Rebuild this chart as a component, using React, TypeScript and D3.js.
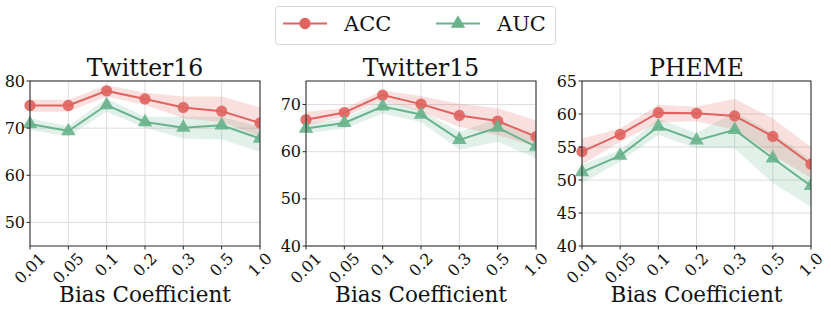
import React, { useRef, useEffect } from 'react';
import * as d3 from 'd3';

const coefficients = ['0.01', '0.05', '0.1', '0.2', '0.3', '0.5', '1.0'];
const datasets = ['Twitter16', 'Twitter15', 'PHEME'];

// means
const accTwitter16 = [74.8, 74.8, 77.9, 76.2, 74.4, 73.6, 71.1];
const aucTwitter16 = [70.9, 69.4, 74.9, 71.3, 70.1, 70.6, 67.8];
const accTwitter15 = [66.8, 68.3, 72.0, 70.1, 67.7, 66.5, 63.2];
const aucTwitter15 = [64.9, 66.1, 69.6, 67.9, 62.5, 65.1, 61.1];
const accPheme = [54.3, 56.9, 60.2, 60.1, 59.7, 56.6, 52.4];
const aucPheme = [51.2, 53.7, 58.1, 56.0, 57.6, 53.3, 49.1];

// shaded band bounds (upper, lower)
const accTwitter16Hi = [76.0, 76.0, 79.1, 77.5, 76.7, 76.7, 74.4];
const accTwitter16Lo = [73.5, 73.5, 76.7, 74.9, 72.1, 71.3, 68.2];
const aucTwitter16Hi = [72.1, 70.4, 76.3, 72.4, 72.4, 72.4, 70.3];
const aucTwitter16Lo = [69.6, 68.3, 73.5, 70.1, 67.8, 67.6, 65.0];
const accTwitter15Hi = [68.5, 69.2, 73.0, 71.8, 70.2, 69.2, 66.7];
const accTwitter15Lo = [65.6, 67.4, 70.9, 68.5, 65.3, 63.5, 61.1];
const aucTwitter15Hi = [66.0, 67.0, 70.9, 68.8, 64.2, 67.0, 63.2];
const aucTwitter15Lo = [63.9, 64.9, 68.1, 66.3, 60.4, 62.1, 58.6];
const accPhemeHi = [56.3, 57.8, 61.4, 61.1, 62.3, 59.3, 55.0];
const accPhemeLo = [52.3, 55.8, 58.7, 58.9, 57.6, 53.8, 50.3];
const aucPhemeHi = [52.3, 54.5, 59.3, 57.1, 60.3, 57.1, 53.1];
const aucPhemeLo = [49.5, 52.8, 56.8, 54.8, 54.8, 49.5, 46.0];

const yDomains = [[45, 80], [40, 75], [40, 65]];
const yTicks = [[50, 60, 70, 80], [40, 50, 60, 70], [40, 45, 50, 55, 60, 65]];

const ACC_COLOR = '#e0635f';
const AUC_COLOR = '#68b38c';
const FONT = 'DejaVu Serif';
const TICK_SIZE = 16;

const App = () => {
    const ref = useRef(null);

    useEffect(() => {
        const svg = d3.select(ref.current);
        svg.selectAll('*').remove();

        const panels = [
            { acc: accTwitter16, auc: aucTwitter16, accHi: accTwitter16Hi, accLo: accTwitter16Lo, aucHi: aucTwitter16Hi, aucLo: aucTwitter16Lo, left: 30, right: 260 },
            { acc: accTwitter15, auc: aucTwitter15, accHi: accTwitter15Hi, accLo: accTwitter15Lo, aucHi: aucTwitter15Hi, aucLo: aucTwitter15Lo, left: 306, right: 536 },
            { acc: accPheme, auc: aucPheme, accHi: accPhemeHi, accLo: accPhemeLo, aucHi: aucPhemeHi, aucLo: aucPhemeLo, left: 582, right: 811 },
        ];
        const top = 81;
        const bottom = 246;

        panels.forEach((p, i) => {
            const x = d3.scalePoint().domain(coefficients).range([p.left, p.right]);
            const y = d3.scaleLinear().domain(yDomains[i]).range([bottom, top]);
            const g = svg.append('g');

            // grid
            g.selectAll('line.vg').data(coefficients).enter().append('line')
                .attr('x1', d => x(d)).attr('x2', d => x(d))
                .attr('y1', top).attr('y2', bottom)
                .attr('stroke', '#dcdcdc').attr('stroke-width', 1);
            g.selectAll('line.hg').data(yTicks[i]).enter().append('line')
                .attr('x1', p.left).attr('x2', p.right)
                .attr('y1', d => y(d)).attr('y2', d => y(d))
                .attr('stroke', '#dcdcdc').attr('stroke-width', 1);

            const series = [
                { vals: p.acc, hi: p.accHi, lo: p.accLo, color: ACC_COLOR, shape: d3.symbolCircle },
                { vals: p.auc, hi: p.aucHi, lo: p.aucLo, color: AUC_COLOR, shape: d3.symbolTriangle },
            ];

            series.slice().reverse().forEach(s => {
                const area = d3.area()
                    .x((d, k) => x(coefficients[k]))
                    .y0((d, k) => y(s.lo[k]))
                    .y1((d, k) => y(s.hi[k]));
                g.append('path')
                    .datum(s.vals)
                    .attr('d', area)
                    .attr('fill', s.color)
                    .attr('fill-opacity', 0.2);
            });

            const clipId = `clip${i}`;
            svg.append('clipPath').attr('id', clipId).append('rect')
                .attr('x', p.left - 8).attr('y', top - 8)
                .attr('width', p.right - p.left + 8).attr('height', bottom - top + 16);

            series.forEach(s => {
                const line = d3.line()
                    .x((d, k) => x(coefficients[k]))
                    .y(d => y(d));
                const sg = g.append('g').attr('clip-path', `url(#${clipId})`);
                sg.append('path')
                    .datum(s.vals)
                    .attr('d', line)
                    .attr('fill', 'none')
                    .attr('stroke', s.color)
                    .attr('stroke-width', 2);
                sg.selectAll('path.m').data(s.vals).enter().append('path')
                    .attr('transform', (d, k) => `translate(${x(coefficients[k])},${y(d)})`)
                    .attr('d', d3.symbol().type(s.shape).size(s.shape === d3.symbolCircle ? 100 : 90)())
                    .attr('fill', s.color)
                    .attr('fill-opacity', 0.9);
            });

            // frame
            g.append('rect')
                .attr('x', p.left).attr('y', top)
                .attr('width', p.right - p.left).attr('height', bottom - top)
                .attr('fill', 'none').attr('stroke', '#262626').attr('stroke-width', 1);

            // y ticks
            yTicks[i].forEach(t => {
                g.append('line')
                    .attr('x1', p.left - 3.5).attr('x2', p.left)
                    .attr('y1', y(t)).attr('y2', y(t))
                    .attr('stroke', '#262626');
                g.append('text')
                    .attr('x', p.left - 5).attr('y', y(t))
                    .attr('text-anchor', 'end').attr('dominant-baseline', 'central')
                    .attr('font-family', FONT).attr('font-size', TICK_SIZE).attr('fill', '#111')
                    .text(t);
            });

            // x ticks
            coefficients.forEach(c => {
                const cx = x(c);
                g.append('line')
                    .attr('x1', cx).attr('x2', cx)
                    .attr('y1', bottom).attr('y2', bottom + 3.5)
                    .attr('stroke', '#262626');
                const txt = g.append('text')
                    .attr('font-family', FONT).attr('font-size', TICK_SIZE).attr('fill', '#111')
                    .attr('text-anchor', 'middle').attr('dominant-baseline', 'central')
                    .text(c);
                const w = txt.node().getComputedTextLength();
                const h = TICK_SIZE * 1.0;
                const cy = bottom + 4 + (w + h) / (2 * Math.SQRT2);
                txt.attr('x', cx).attr('y', cy)
                    .attr('transform', `rotate(-45,${cx},${cy})`);
            });

            // title and axis label
            const mid = (p.left + p.right) / 2;
            g.append('text')
                .attr('x', mid).attr('y', 76)
                .attr('text-anchor', 'middle')
                .attr('font-family', FONT).attr('font-size', 23.5).attr('fill', '#111')
                .text(datasets[i]);
            g.append('text')
                .attr('x', mid).attr('y', 302)
                .attr('text-anchor', 'middle')
                .attr('font-family', FONT).attr('font-size', 21.5).attr('fill', '#111')
                .text('Bias Coefficient');
        });

        // legend
        const lg = svg.append('g');
        lg.append('rect')
            .attr('x', 275.5).attr('y', 6.5).attr('width', 280).attr('height', 38)
            .attr('rx', 3).attr('fill', 'white').attr('stroke', '#d6d6d6');
        const legendItems = [
            { label: 'ACC', color: ACC_COLOR, shape: d3.symbolCircle, x0: 283 },
            { label: 'AUC', color: AUC_COLOR, shape: d3.symbolTriangle, x0: 436 },
        ];
        legendItems.forEach(it => {
            lg.append('line')
                .attr('x1', it.x0).attr('x2', it.x0 + 44)
                .attr('y1', 23.5).attr('y2', 23.5)
                .attr('stroke', it.color).attr('stroke-width', 2);
            lg.append('path')
                .attr('transform', `translate(${it.x0 + 22},23.5)`)
                .attr('d', d3.symbol().type(it.shape).size(it.shape === d3.symbolCircle ? 100 : 90)())
                .attr('fill', it.color);
            lg.append('text')
                .attr('x', it.x0 + 61).attr('y', 31)
                .attr('font-family', FONT).attr('font-size', 21).attr('fill', '#111')
                .text(it.label);
        });
    }, []);

    return (
        <svg
            ref={ref}
            width={831}
            height={316}
            style={{ position: 'absolute', left: 0, top: 0, background: 'white' }}
        />
    );
};

export default App;
